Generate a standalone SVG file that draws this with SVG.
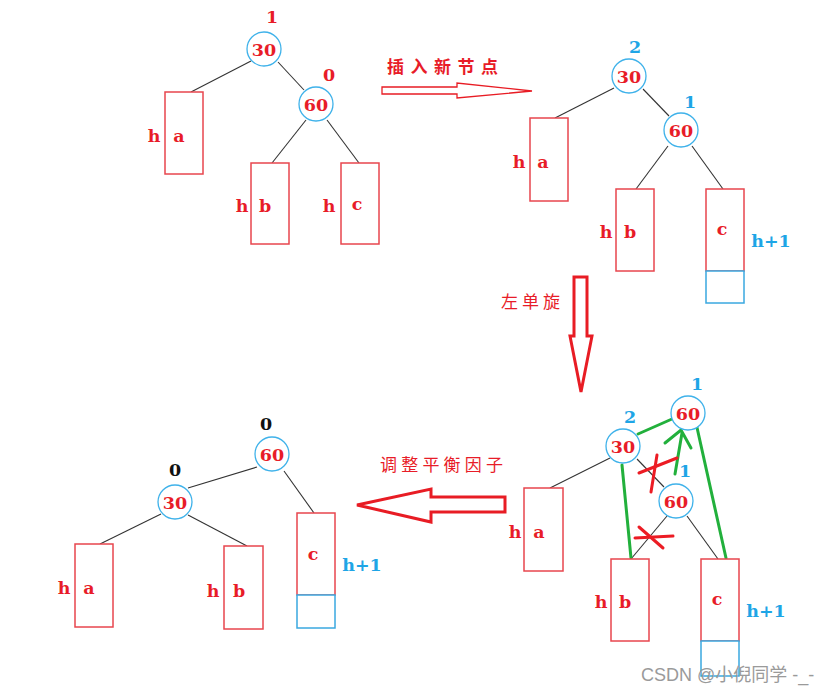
<svg xmlns="http://www.w3.org/2000/svg" width="834" height="694" viewBox="0 0 834 694">
<style>
.bg{fill:#fff}
.node{fill:#fff;stroke:#3fb2ea;stroke-width:1.3}
.box{fill:#fff;stroke:#e8464e;stroke-width:1.5}
.bbox{fill:#fff;stroke:#3aa8e0;stroke-width:1.5}
.edge{stroke:#333;stroke-width:1.1;fill:none}
.g{stroke:#22b03c;stroke-width:3;fill:none;stroke-linecap:round}
.x{stroke:#ec1c24;stroke-width:3;fill:none;stroke-linecap:round}
.t{font-family:"DejaVu Serif","Liberation Serif",serif;font-weight:bold;font-size:17.5px;fill:#e81c28;text-anchor:middle;dominant-baseline:central}
.tb{fill:#1ea5e6}
.tk{fill:#111}
.cn{font-family:"Noto Sans CJK SC",sans-serif;font-size:17px;fill:#e81c28;dominant-baseline:central}
.arr{fill:#fff;stroke:#e81c24}
.wm{font-family:"Liberation Sans","Noto Sans CJK SC",sans-serif;font-size:18px;fill:#9a9a9a;dominant-baseline:central}
</style>
<rect class="bg" width="834" height="694"/>
<g id="connectors">
<line class="edge" x1="251" y1="61" x2="191" y2="92"/>
<line class="edge" x1="278" y1="62" x2="304" y2="90"/>
<line class="edge" x1="306" y1="120" x2="272" y2="163"/>
<line class="edge" x1="327" y1="120" x2="359" y2="163"/>
<line class="edge" x1="614" y1="88" x2="555" y2="118"/>
<line class="edge" x1="643" y1="89" x2="669" y2="116"/>
<line class="edge" x1="668" y1="146" x2="636" y2="189"/>
<line class="edge" x1="692" y1="146" x2="723" y2="189"/>
<line class="edge" x1="610" y1="458" x2="550" y2="488"/>
<line class="edge" x1="637" y1="459" x2="664" y2="487"/>
<line class="edge" x1="667" y1="516" x2="631" y2="559"/>
<line class="edge" x1="687" y1="516" x2="718" y2="559"/>
<line class="edge" x1="257" y1="467" x2="188" y2="488"/>
<line class="edge" x1="284" y1="471" x2="314" y2="513"/>
<line class="edge" x1="161" y1="514" x2="100" y2="544"/>
<line class="edge" x1="188" y1="515" x2="247" y2="546"/>
<line class="g" x1="638" y1="434" x2="672" y2="419"/>
<line class="g" x1="675" y1="474" x2="682" y2="433"/>
<polyline class="g" points="665,443 681,430 691,448"/>
<line class="g" x1="622" y1="465" x2="631" y2="558"/>
<line class="g" x1="696" y1="423" x2="726" y2="558"/>
<line class="x" x1="639" y1="473" x2="677" y2="458"/>
<line class="x" x1="657" y1="455" x2="651" y2="492"/>
<line class="x" x1="635" y1="538" x2="673" y2="536"/>
<line class="x" x1="639" y1="527" x2="663" y2="548"/>
</g>
<g id="arrow-insert">
<polygon class="arr" stroke-width="1.3" points="382,87 457,87 457,83 532,91 457,98 457,94 382,94"/>
<text class="cn" x="387" y="65" font-size="18" font-weight="bold" letter-spacing="6.5">插入新节点</text>
</g>
<g id="arrow-rotate">
<polygon class="arr" stroke-width="3" points="574,277 587,277 587,336 592,336 581,392 570,336 574,336"/>
<text class="cn" x="501" y="300" letter-spacing="4">左单旋</text>
</g>
<g id="arrow-adjust">
<polygon class="arr" stroke-width="3" points="357,505 431,489 431,497 505,497 505,512 431,512 431,522"/>
<text class="cn" x="380" y="463" letter-spacing="4.2">调整平衡因子</text>
</g>
<g id="tl-30"><circle class="node" cx="264" cy="49" r="17"/><text class="t" x="264" y="50">30</text><text class="t" x="272" y="17">1</text></g>
<g id="tl-60"><circle class="node" cx="316" cy="104" r="17"/><text class="t" x="316" y="105">60</text><text class="t" x="329" y="75">0</text></g>
<g id="tl-a"><rect class="box" x="165" y="92" width="38" height="82"/><text class="t" x="154" y="136">h</text><text class="t" x="179" y="136">a</text></g>
<g id="tl-b"><rect class="box" x="251" y="163" width="38" height="81"/><text class="t" x="242" y="206">h</text><text class="t" x="265" y="206">b</text></g>
<g id="tl-c"><rect class="box" x="341" y="163" width="38" height="81"/><text class="t" x="329" y="206">h</text><text class="t" x="357" y="204">c</text></g>
<g id="tr-30"><circle class="node" cx="629" cy="76" r="17"/><text class="t" x="629" y="77">30</text><text class="t tb" x="635" y="47">2</text></g>
<g id="tr-60"><circle class="node" cx="681" cy="130" r="17"/><text class="t" x="681" y="131">60</text><text class="t tb" x="690" y="102">1</text></g>
<g id="tr-a"><rect class="box" x="530" y="118" width="38" height="83"/><text class="t" x="519" y="162">h</text><text class="t" x="543" y="162">a</text></g>
<g id="tr-b"><rect class="box" x="616" y="189" width="38" height="82"/><text class="t" x="606" y="232">h</text><text class="t" x="630" y="232">b</text></g>
<g id="tr-c"><rect class="box" x="706" y="189" width="38" height="82"/><rect class="bbox" x="706" y="271" width="38" height="32"/><text class="t" x="722" y="229">c</text><text class="t tb" x="771" y="241">h+1</text></g>
<g id="br-60top"><circle class="node" cx="688" cy="413" r="17"/><text class="t" x="688" y="414">60</text><text class="t tb" x="697" y="384">1</text></g>
<g id="br-30"><circle class="node" cx="623" cy="446" r="17"/><text class="t" x="623" y="447">30</text><text class="t tb" x="630" y="417">2</text></g>
<g id="br-60"><circle class="node" cx="676" cy="501" r="17"/><text class="t" x="676" y="502">60</text><text class="t tb" x="685" y="471">1</text></g>
<g id="br-a"><rect class="box" x="524" y="488" width="39" height="83"/><text class="t" x="515" y="532">h</text><text class="t" x="539" y="532">a</text></g>
<g id="br-b"><rect class="box" x="611" y="559" width="38" height="82"/><text class="t" x="601" y="602">h</text><text class="t" x="625" y="602">b</text></g>
<g id="br-c"><rect class="box" x="701" y="559" width="38" height="82"/><rect class="bbox" x="701" y="641" width="38" height="35"/><text class="t" x="717" y="599">c</text><text class="t tb" x="766" y="611">h+1</text></g>
<g id="bl-60"><circle class="node" cx="272" cy="454" r="17"/><text class="t" x="272" y="455">60</text><text class="t tk" x="266" y="424">0</text></g>
<g id="bl-30"><circle class="node" cx="175" cy="502" r="17"/><text class="t" x="175" y="503">30</text><text class="t tk" x="175" y="470">0</text></g>
<g id="bl-a"><rect class="box" x="75" y="544" width="38" height="83"/><text class="t" x="64" y="588">h</text><text class="t" x="89" y="588">a</text></g>
<g id="bl-b"><rect class="box" x="224" y="546" width="39" height="83"/><text class="t" x="213" y="591">h</text><text class="t" x="239" y="591">b</text></g>
<g id="bl-c"><rect class="box" x="297" y="513" width="38" height="82"/><rect class="bbox" x="297" y="595" width="38" height="33"/><text class="t" x="313" y="554">c</text><text class="t tb" x="362" y="565">h+1</text></g>
<text class="wm" x="641" y="675">CSDN @小倪同学 -_-</text>
</svg>
